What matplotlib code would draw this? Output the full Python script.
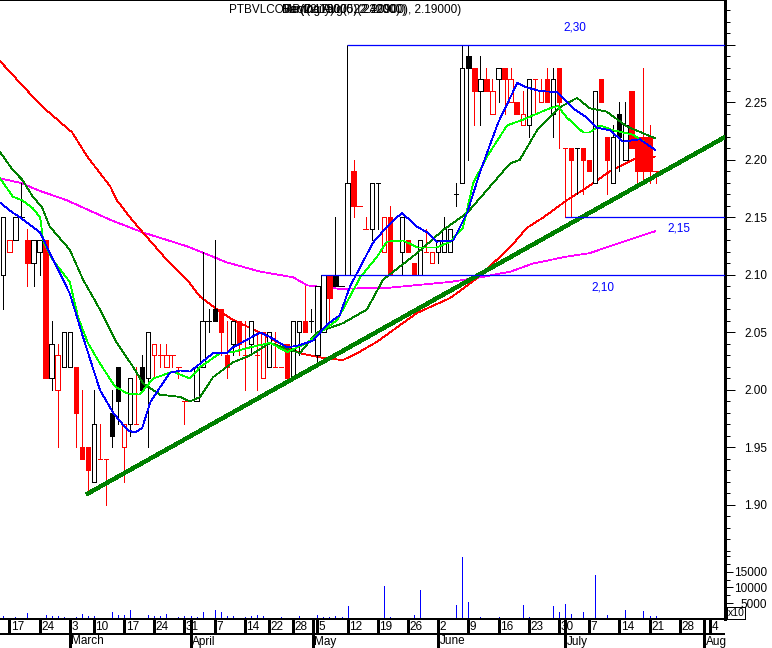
import numpy as np
import matplotlib
matplotlib.use("Agg")
import matplotlib.pyplot as plt
from matplotlib.patches import Rectangle

plt.rcParams['font.family'] = ['Liberation Sans', 'DejaVu Sans']
plt.rcParams['lines.antialiased'] = False
plt.rcParams['patch.antialiased'] = False

NA = np.nan
# Daily OHLC, one entry per trading day (NaN = no trade)
opens = [2.10, 2.12, 2.13, 2.15, 2.13, 2.11, 2.12, 2.13, 2.01, 2.00,
         2.02, 2.02, 2.02, 1.95, 1.95, 1.92, 1.94, 1.94, 1.98, 2.02,
         1.95, 1.97, 1.97, 2.02, 2.01, 2.03, 2.03, 2.02, 2.03, 2.02,
         1.99, NA, 1.99, 2.02, 2.06, 2.07, 2.07, 2.03, 2.04, 2.06,
         2.03, 2.04, 2.03, 2.01, 2.02, 2.02, 2.02, 2.04, 2.01, 2.05,
         2.06, 2.06, 2.03, 2.05, 2.10, 2.10, 2.09, 2.10, 2.19, 2.16,
         2.14, 2.14, 2.18, 2.12, 2.15, NA, 2.12, 2.13, 2.11, 2.10,
         2.12, 2.11, 2.12, 2.12, 2.12, 2.17, 2.18, 2.29, 2.28, 2.26,
         2.27, 2.24, 2.27, 2.28, 2.25, 2.25, 2.23, 2.23, 2.27, 2.25,
         2.27, 2.24, 2.28, 2.21, 2.21, 2.21, 2.21, 2.20, 2.18, 2.27,
         2.22, 2.18, 2.24, 2.20, 2.26, 2.22, 2.22, 2.22, 2.19]
highs = [2.15, 2.13, 2.15, 2.18, 2.14, 2.13, 2.13, 2.13, 2.06, 2.04,
         2.05, 2.05, 2.02, 2.00, 1.95, 2.00, 1.97, 1.94, 2.00, 2.02,
         1.97, 2.01, 2.02, 2.03, 2.05, 2.04, 2.04, 2.04, 2.03, 2.02,
         1.99, NA, 2.02, 2.12, 2.07, 2.13, 2.07, 2.06, 2.06, 2.06,
         2.06, 2.06, 2.05, 2.05, 2.05, 2.05, 2.02, 2.04, 2.06, 2.06,
         2.09, 2.07, 2.09, 2.10, 2.10, 2.15, 2.09, 2.18, 2.20, 2.16,
         2.15, 2.18, 2.18, 2.15, 2.16, NA, 2.15, 2.13, 2.11, 2.13,
         2.14, 2.12, 2.13, 2.15, 2.14, 2.18, 2.30, 2.30, 2.28, 2.29,
         2.28, 2.27, 2.28, 2.28, 2.28, 2.25, 2.26, 2.27, 2.27, 2.27,
         2.28, 2.28, 2.28, 2.21, 2.21, 2.21, 2.21, 2.20, 2.26, 2.27,
         2.22, 2.23, 2.25, 2.25, 2.26, 2.22, 2.28, 2.23, 2.19]
lows = [2.07, 2.12, 2.13, 2.15, 2.09, 2.09, 2.10, 2.01, 2.00, 1.95,
        2.02, 2.02, 1.95, 1.94, 1.91, 1.92, 1.94, 1.90, 1.95, 1.97,
        1.92, 1.96, 1.97, 2.00, 1.95, 2.01, 2.02, 2.02, 2.02, 2.01,
        1.97, NA, 1.99, 2.02, 2.05, 2.06, 2.03, 2.01, 2.03, 2.03,
        2.00, 2.03, 2.00, 2.01, 2.02, 2.02, 2.02, 2.01, 2.01, 2.03,
        2.05, 2.05, 2.02, 2.05, 2.06, 2.09, 2.09, 2.10, 2.15, 2.16,
        2.14, 2.13, 2.14, 2.12, 2.10, NA, 2.10, 2.12, 2.10, 2.10,
        2.12, 2.11, 2.11, 2.12, 2.12, 2.16, 2.18, 2.20, 2.23, 2.23,
        2.26, 2.24, 2.25, 2.24, 2.25, 2.24, 2.23, 2.22, 2.24, 2.25,
        2.25, 2.22, 2.21, 2.15, 2.15, 2.17, 2.17, 2.19, 2.18, 2.25,
        2.17, 2.18, 2.19, 2.20, 2.21, 2.18, 2.18, 2.18, 2.18]
closes = [2.15, 2.13, 2.15, 2.15, 2.11, 2.13, 2.13, 2.01, 2.04, 2.03,
          2.05, 2.05, 1.98, 1.94, 1.93, 1.97, 1.94, 1.94, 1.96, 1.99,
          1.97, 2.01, 1.97, 2.00, 2.05, 2.04, 2.03, 2.03, 2.03, 2.02,
          1.99, NA, 2.02, 2.06, 2.06, 2.06, 2.05, 2.02, 2.06, 2.04,
          2.03, 2.06, 2.03, 2.05, 2.05, 2.02, 2.02, 2.01, 2.06, 2.06,
          2.05, 2.06, 2.09, 2.10, 2.08, 2.09, 2.09, 2.18, 2.16, 2.16,
          2.14, 2.18, 2.18, 2.15, 2.10, NA, 2.15, 2.12, 2.10, 2.13,
          2.12, 2.12, 2.13, 2.14, 2.14, 2.17, 2.28, 2.28, 2.26, 2.27,
          2.26, 2.26, 2.28, 2.27, 2.27, 2.24, 2.24, 2.27, 2.27, 2.26,
          2.25, 2.27, 2.25, 2.21, 2.20, 2.21, 2.20, 2.19, 2.26, 2.25,
          2.20, 2.22, 2.22, 2.23, 2.21, 2.19, 2.19, 2.19, 2.19]
# k = closed at/above previous close, r = closed below it, - = no trade
direction = ("krkkrkkrkr" "kkrrrkrrkk" "rkrkkrrrrr" "r-kkkkrrkr" "rkrrkrrrkk"
             "rkkkrkkkrr" "rkkrr-krrk" "rrkkkkkkrk" "rrkrrrrkrr" "rkrrrkrrkr"
             "rkkkrrrrr")
volume = [1050, 0, 730, 0, 1900, 0, 0, 1360, 850, 1050,
          630, 320, 630, 1580, 1050, 1050, 0, 0, 2300, 1360,
          1360, 2750, 0, 0, 1360, 1050, 1050, 1580, 0, 630,
          1050, 850, 630, 2100, 0, 2750, 2100, 850, 1050, 0,
          630, 1050, 1300, 1050, 0, 0, 630, 320, 320, 1050,
          320, 0, 1360, 630, 730, 1050, 630, 4200, 320, 320,
          0, 0, 0, 10400, 630, 0, 0, 320, 1360, 9250,
          320, 0, 320, 320, 320, 4500, 19700, 5300, 0, 630,
          320, 320, 630, 320, 0, 0, 4500, 630, 0, 320,
          0, 4200, 2300, 4800, 1680, 0, 2300, 0, 14000, 0,
          1360, 320, 320, 2900, 320, 320, 2600, 1050, 1050]

# Moving-average curves (trading-day index, price)
ma_fast_x = [-0.55, 1.6, 2.8, 6.1, 7.7, 11.0, 13.2, 16.0, 18.2, 20.6, 21.8, 23.0, 24.3, 25.9,
             27.6, 29.3, 30.9, 32.6, 34.7, 37.0, 38.0, 40.8, 42.5, 44.2, 47.0, 49.1, 51.3,
             53.6, 55.7, 57.4, 59.1, 61.2, 63.5, 66.0, 68.5, 70.2, 71.8, 74.5, 76.8, 78.9,
             81.9, 85.1, 86.7, 88.9, 91.7, 94.3, 96.6, 98.3, 100.4, 102.6, 105.4, 107.9]
ma_fast_y = [2.163, 2.154, 2.150, 2.137, 2.119, 2.084, 2.046, 2.000, 1.980, 1.965, 1.963,
             1.967, 1.989, 2.002, 2.015, 2.017, 2.016, 2.023, 2.032, 2.032, 2.037, 2.045,
             2.050, 2.046, 2.037, 2.039, 2.043, 2.057, 2.065, 2.090, 2.107, 2.128, 2.142,
             2.154, 2.142, 2.137, 2.129, 2.130, 2.154, 2.189, 2.232, 2.267, 2.263, 2.260,
             2.259, 2.245, 2.237, 2.228, 2.226, 2.216, 2.218, 2.209]
ma_mid_x = [-0.55, 1.6, 3.1, 4.9, 6.1, 6.6, 8.2, 11.0, 12.4, 14.0, 16.0, 18.5, 20.5, 22.6,
            24.8, 28.1, 30.9, 32.6, 35.9, 38.0, 40.8, 44.2, 47.0, 50.3, 53.0, 55.3, 59.1,
            61.9, 63.5, 66.2, 68.5, 71.8, 74.0, 76.1, 77.8, 80.1, 83.4, 86.0, 90.5, 91.8,
            93.3, 96.0, 97.1, 98.8, 100.9, 104.3, 107.9]
ma_mid_y = [2.184, 2.168, 2.165, 2.158, 2.150, 2.130, 2.113, 2.094, 2.063, 2.041, 2.023,
            2.003, 1.997, 1.996, 2.010, 2.016, 2.010, 2.020, 2.032, 2.033, 2.037, 2.041,
            2.033, 2.041, 2.052, 2.061, 2.098, 2.116, 2.129, 2.130, 2.124, 2.124, 2.129,
            2.141, 2.180, 2.203, 2.230, 2.235, 2.245, 2.247, 2.237, 2.224, 2.224, 2.230,
            2.226, 2.222, 2.209]
ma_slow_x = [-0.55, 1.6, 3.1, 4.9, 6.4, 7.7, 11.0, 13.2, 16.0, 18.8, 21.5, 23.1, 25.9, 29.3,
             30.9, 32.6, 34.7, 38.0, 40.8, 44.2, 49.1, 51.9, 56.2, 60.2, 62.9, 68.5, 72.8,
             76.8, 80.6, 83.9, 85.5, 88.4, 92.2, 95.0, 97.1, 99.9, 103.3, 107.9]
ma_slow_y = [2.207, 2.191, 2.183, 2.168, 2.159, 2.142, 2.122, 2.096, 2.070, 2.041, 2.020,
             2.006, 1.996, 1.994, 1.990, 1.994, 2.011, 2.024, 2.030, 2.041, 2.032, 2.050,
             2.058, 2.070, 2.096, 2.119, 2.139, 2.154, 2.177, 2.197, 2.200, 2.226, 2.246,
             2.254, 2.245, 2.242, 2.229, 2.219]
ma_long_x = [-0.55, 1.9, 4.9, 7.2, 11.4, 13.9, 17.7, 18.8, 21.3, 23.1, 27.1, 30.4, 32.6, 35.4,
             38.0, 42.5, 43.7, 49.1, 52.9, 56.2, 58.6, 61.9, 64.0, 68.5, 74.0, 78.4, 83.9,
             86.7, 89.4, 93.3, 96.6, 100.4, 104.6, 108.0]
ma_long_y = [2.286, 2.272, 2.255, 2.243, 2.224, 2.203, 2.177, 2.165, 2.148, 2.137, 2.113,
             2.096, 2.081, 2.070, 2.061, 2.050, 2.046, 2.032, 2.028, 2.026, 2.032, 2.042,
             2.050, 2.067, 2.080, 2.097, 2.124, 2.141, 2.150, 2.165, 2.176, 2.190, 2.201,
             2.203]
ma_year_x = [-0.55, 3.0, 5.6, 10.5, 17.7, 23.1, 30.4, 37.0, 42.5, 48.0, 50.3, 55.7, 64.0,
             74.0, 79.0, 84.0, 87.7, 93.3, 97.1, 100.4, 107.9]
ma_year_y = [2.184, 2.180, 2.174, 2.165, 2.148, 2.137, 2.125, 2.111, 2.103, 2.098, 2.091,
             2.088, 2.089, 2.094, 2.098, 2.103, 2.110, 2.116, 2.119, 2.125, 2.138]

# Support trendline (start point and point at right edge)
trend_x = [14, 119.5]
trend_y = [1.91, 2.22]
# Horizontal levels: (price, first day, label, label day, label price)
levels = [(2.30, 56.85, "2,30", 94.7, 2.315),
          (2.15, 93.0, "2,15", 111.9, 2.140),
          (2.10, 52.65, "2,10", 99.3, 2.089)]

day_ticks = [1, 6, 11, 15, 20, 25, 30, 35, 40, 44, 48, 52, 57, 62, 67, 72, 77, 82, 87, 92,
             97, 102, 107, 112, 117]
day_labels = ['17', '24', '3', '10', '17', '24', '31', '7', '14', '22', '28', '5', '12',
              '19', '26', '2', '9', '16', '23', '30', '7', '14', '21', '28', '4']
month_ticks = [11, 31, 51.2, 72, 93, 116.1]
month_labels = ['March', 'April', 'May', 'June', 'July', 'Aug']

W, H = 772, 648
PX = 0.72  # one pixel in points
LW = 0.55  # hairline for indicator curves
fig = plt.figure(figsize=(W / 100, H / 100), dpi=100)
right = 725 / W
ax = fig.add_axes([0, 1 - 553 / H, right, 553 / H])
axv = fig.add_axes([0, 1 - 619 / H, right, 66 / H], sharex=ax)
axd = fig.add_axes([0, 0, right, 29 / H], sharex=ax)

xmin, xmax = -0.55, 119.5
ax.set_xlim(xmin, xmax)
ax.set_ylim(1.85826, 2.33913)

RED, BLK, BLUE = '#ff0000', '#000000', '#0000ff'
hw = 0.36
for i in range(len(opens)):
    o, h, l, c = opens[i], highs[i], lows[i], closes[i]
    if np.isnan(o):
        continue
    col = RED if direction[i] == 'r' else BLK
    ax.vlines(i, l, h, color=col, lw=LW, zorder=3)
    if o == c:
        ax.hlines(o, i - hw, i + hw, color=col, lw=LW, zorder=4)
    else:
        face = 'white' if c > o else col
        ax.add_patch(Rectangle((i - hw, min(o, c)), 2 * hw, abs(c - o),
                               facecolor=face, edgecolor=col, lw=LW, zorder=4))

ax.plot(ma_year_x, ma_year_y, color='#ff00ff', lw=LW, zorder=2)
ax.plot(ma_long_x, ma_long_y, color='#ff0000', lw=LW, zorder=2)
ax.plot(ma_slow_x, ma_slow_y, color='#008000', lw=LW, zorder=5)
ax.plot(ma_mid_x, ma_mid_y, color='#00ff00', lw=LW, zorder=5)
ax.plot(ma_fast_x, ma_fast_y, color=BLUE, lw=LW, zorder=6)
ax.plot(trend_x, trend_y, color='#008000', lw=2.3, zorder=6)

for price, start, lab, lx, ly in levels:
    ax.hlines(price, start, xmax, color=BLUE, lw=0.9, zorder=6, antialiased=True)
    ax.text(lx, ly, lab, color=BLUE, fontsize=8.5, ha='center', va='center')
# connector from the breakout candle up to the top level
ax.vlines(levels[0][1], highs[57], levels[0][0], color=BLK, lw=PX, zorder=6,
          antialiased=True)

# price axis on the right
ax.yaxis.tick_right()
for s in ('left', 'bottom'):
    ax.spines[s].set_visible(False)
ax.spines['top'].set_linewidth(1.2)
ax.spines['right'].set_linewidth(1.0)
maj = [1.90, 1.95, 2.00, 2.05, 2.10, 2.15, 2.20, 2.25, 2.30]
ax.set_yticks(maj, ['%.2f' % v if v < 2.3 else '' for v in maj])
ax.set_yticks(np.round(np.arange(1.86, 2.335, 0.01), 2), minor=True)
ax.tick_params(axis='y', which='major', length=10 * PX, width=PX, pad=23, labelsize=8.5)
ax.tick_params(axis='y', which='minor', length=5 * PX, width=PX)
for t in ax.get_yticklabels():
    t.set_horizontalalignment('right')
ax.tick_params(axis='x', which='both', bottom=False, labelbottom=False)

# volume panel
axv.vlines(np.arange(len(volume)), 0, volume, color=BLUE, lw=PX)
axv.set_ylim(0, 20950)
axv.yaxis.tick_right()
for s in ('left', 'top'):
    axv.spines[s].set_visible(False)
axv.spines['bottom'].set_linewidth(1.2)
axv.set_yticks([5000, 10000, 15000], ['5000', '10000', '15000'])
axv.set_yticks(np.arange(2500, 20001, 2500), minor=True)
axv.tick_params(axis='y', which='major', length=8 * PX, width=PX, pad=24.5, labelsize=8.5)
axv.tick_params(axis='y', which='minor', length=5 * PX, width=PX)
for t in axv.get_yticklabels():
    t.set_horizontalalignment('right')
axv.tick_params(axis='x', which='both', bottom=False, labelbottom=False)
fig.text(736 / W, 1 - 613 / H, 'x10', fontsize=7.5, ha='center', va='center',
         bbox=dict(boxstyle='square,pad=0.1', fc='white', ec='black', lw=PX))

# date strip
axd.set_ylim(0, 29)
axd.axis('off')
axd.axhline(14, color=BLK, lw=1.2)
for d, lab in zip(day_ticks, day_labels):
    axd.vlines(d, 14, 29, color=BLK, lw=1.0)
    axd.text(d + 0.25, 21.5, lab, fontsize=8.5, ha='left', va='center')
for m, lab in zip(month_ticks, month_labels):
    axd.vlines(m, 0, 29, color=BLK, lw=1.0)
    axd.text(m + 0.25, 6.5, lab, fontsize=8.5, ha='left', va='center')

# overlapping study captions in the header
ty = 1 - 10 / H
fig.text(229 / W, ty, 'PTBVLCORP(Daily)', fontsize=8.5, va='center')
fig.text(282 / W, ty, 'Rect(2.15000, 2.30000)', fontsize=8.5, va='center')
fig.text(282 / W, ty, 'Bar(2.17900, 2.24200)', fontsize=8.5, va='center')
fig.text(282 / W, ty, 'Moving Avg(5)(2.20900), 2.19000)', fontsize=8.5, va='center')

fig.savefig('out.png', dpi=100)
